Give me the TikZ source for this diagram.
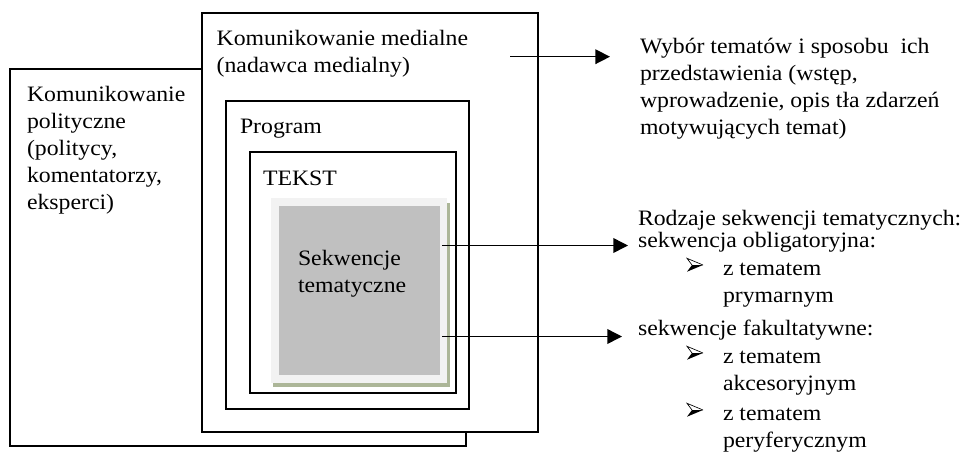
\documentclass[tikz,border=0pt]{standalone}
\usepackage{fontspec}
\setmainfont{Liberation Serif}[FakeStretch=1.08]
\usetikzlibrary{arrows.meta}

% multi-line text whose baseline is the first line
\newcommand{\txtlines}[1]{\begin{tabular}[t]{@{}l@{}}#1\end{tabular}}

\tikzset{
  frame/.style={draw=black, line width=1.5pt, fill=white},
  lbl/.style={anchor=base west, inner sep=0pt, outer sep=0pt,
    font=\fontsize{16.5}{20.25}\selectfont},
  arr/.style={line width=1.1pt, -{Triangle[length=11pt,width=11pt]}},
  % three-d arrowhead bullet, origin at its back-middle point
  pics/arrowbullet/.style={code={
    \fill[black] (5,0) -- (16,0) -- (0,6.7) -- cycle;
    \draw[black, line width=0.5pt, line join=miter] (5,0) -- (0,-6.7) -- (16,0);
  }},
}

\begin{document}
\begin{tikzpicture}[x=0.75pt,y=-0.75pt]
\useasboundingbox (0,0) rectangle (967,458);

% nested frames
\draw[frame] (10,69) rectangle (466,446);
\draw[frame] (202,12.7) rectangle (538,432);
\draw[frame] (226,101) rectangle (469,409);
\draw[frame] (250,152) rectangle (456,393);

% shaded thematic-sequence block
\fill[fill={rgb,255:red,172;green,182;blue,152}] (273,203) rectangle (450,387);
\fill[fill={rgb,255:red,242;green,242;blue,242}] (270.7,198.3) rectangle (446.7,382.7);
\node[fill={rgb,255:red,192;green,192;blue,192}, inner sep=0pt, anchor=north west,
      minimum width=161pt*0.75, minimum height=169.3pt*0.75] (seq) at (278.3,205.7) {};

% labels inside the frames
\node[lbl] (polit) at (27,101.7) {\txtlines{Komunikowanie\\polityczne\\(politycy,\\komentatorzy,\\eksperci)}};
\node[lbl] (media) at (216.7,45) {\txtlines{Komunikowanie medialne\\(nadawca medialny)}};
\node[lbl] (prog) at (240,133) {Program};
\node[lbl] (tekst) at (263,185) {TEKST};
\node[lbl] (seqtxt) at (298,265) {\txtlines{Sekwencje\\tematyczne}};

% right-hand descriptions
\node[lbl] (wybor) at (640,53.3) {\txtlines{Wybór tematów i sposobu \ ich\\przedstawienia (wstęp,\\wprowadzenie, opis tła zdarzeń\\motywujących temat)}};
\node[lbl] (rodz) at (638,225) {Rodzaje sekwencji tematycznych:};
\node[lbl] (oblig) at (638,247) {sekwencja obligatoryjna:};
\pic at (687,265) {arrowbullet};
\node[lbl] (prym) at (723,275) {\txtlines{z tematem\\prymarnym}};
\node[lbl] (fak) at (638,335.5) {sekwencje fakultatywne:};
\pic at (687,353) {arrowbullet};
\node[lbl] (akc) at (723,363) {\txtlines{z tematem\\akcesoryjnym}};
\pic at (687,410) {arrowbullet};
\node[lbl] (per) at (723,420) {\txtlines{z tematem\\peryferycznym}};

% connectors
\coordinate (medsrc) at (510,56.7);
\coordinate (medtgt) at (610,56.7);
\coordinate (obltgt) at (628,245.5);
\coordinate (faktgt) at (622,336.5);
\draw[arr] (medsrc) -- (medtgt);
\draw[arr] (seq.east |- obltgt) ++(2.4,0) -- (obltgt);
\draw[arr] (seq.east |- faktgt) ++(2.4,0) -- (faktgt);
\end{tikzpicture}
\end{document}
